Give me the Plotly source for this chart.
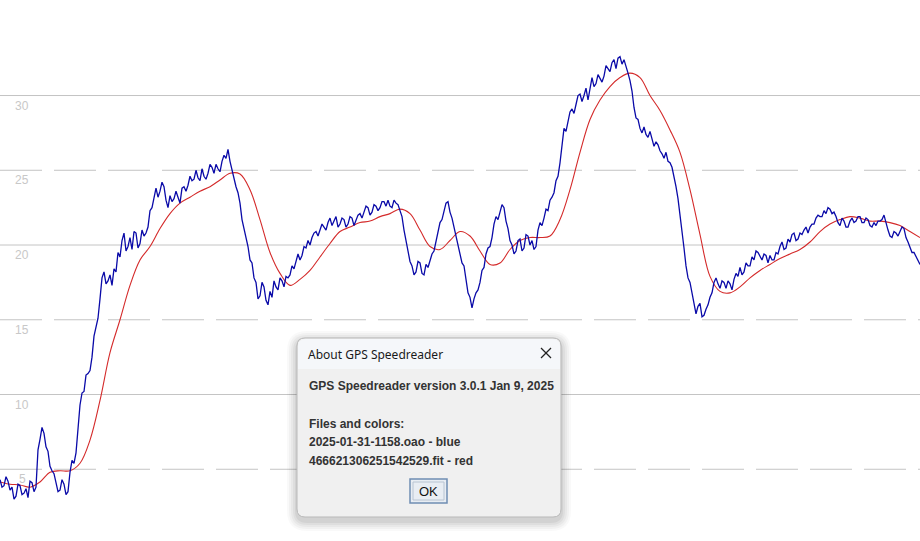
import numpy as np
import plotly.graph_objects as go

# ---------------- data ----------------
# blue series: 2025-01-31-1158.oao (speed, evenly sampled)
blue_speed = [
    4.3, 3.8, 3.9, 4.5, 4.2, 3.6, 3.8, 3.0, 3.2, 4.0, 3.9, 3.3, 3.4, 3.7, 3.1, 4.2, 4.1, 3.5, 3.8, 6.3,
    7.0, 7.8, 7.4, 6.5, 6.2, 5.2, 4.9, 4.7, 4.1, 3.5, 3.6, 4.3, 4.0, 3.3, 3.5, 4.8, 5.6, 5.4, 6.1, 7.9,
    9.3, 10.1, 10.2, 11.3, 11.4, 11.6, 12.5, 13.9, 14.6, 15.1, 16.4, 17.8, 18.2, 17.4, 17.6, 18.0, 17.3, 18.4, 18.2, 19.5,
    19.2, 20.3, 20.8, 19.6, 19.9, 20.5, 19.7, 20.9, 20.8, 19.8, 20.1, 21.0, 20.6, 20.8, 21.2, 22.3, 22.5, 23.1, 23.8, 23.2,
    23.6, 24.2, 23.9, 23.0, 22.5, 23.3, 22.9, 23.1, 23.6, 23.2, 22.8, 23.8, 23.9, 23.6, 24.0, 24.6, 24.3, 24.4, 25.0, 24.5,
    24.3, 25.1, 24.6, 24.4, 24.8, 25.4, 25.2, 24.8, 25.4, 25.1, 24.9, 25.6, 26.0, 25.8, 26.4, 25.6, 25.0, 24.6, 23.9, 23.5,
    22.8, 21.7, 21.1, 20.7, 19.9, 19.0, 18.8, 17.8, 17.5, 16.4, 16.6, 17.5, 17.2, 16.3, 16.0, 16.9, 16.5, 17.6, 17.2, 17.0,
    17.8, 17.6, 17.2, 17.9, 17.8, 18.0, 18.6, 18.4, 18.9, 19.4, 19.0, 19.3, 19.9, 19.8, 20.3, 20.0, 20.5, 20.8, 20.9, 20.6,
    21.0, 21.4, 21.2, 21.0, 21.5, 21.8, 21.3, 21.6, 21.9, 21.2, 21.4, 21.8, 21.7, 21.2, 21.4, 21.9, 21.8, 21.3, 21.6, 22.0,
    22.1, 21.8, 22.2, 22.6, 22.5, 22.0, 22.2, 22.7, 22.6, 22.3, 22.5, 22.9, 22.9, 22.6, 23.0, 22.6, 22.5, 23.0, 22.8, 22.7,
    22.3, 21.9, 21.0, 20.2, 19.7, 18.9, 18.6, 18.0, 18.2, 18.9, 18.8, 18.1, 18.0, 18.7, 18.5, 18.9, 19.4, 19.6, 20.2, 20.9,
    21.5, 21.7, 22.3, 22.8, 22.9, 22.2, 21.8, 21.2, 20.4, 19.9, 19.4, 18.8, 18.6, 17.5, 16.8, 16.5, 15.8, 16.4, 16.8, 17.0,
    17.5, 18.3, 18.5, 19.4, 19.8, 19.9, 20.5, 21.4, 21.9, 21.7, 22.2, 22.7, 22.5, 21.6, 21.1, 20.3, 20.0, 19.4, 19.6, 20.3,
    20.4, 19.6, 19.8, 20.7, 20.6, 20.0, 20.3, 19.7, 19.9, 21.0, 21.5, 21.3, 21.8, 22.4, 22.3, 23.0, 23.2, 23.5, 24.3, 24.6,
    25.5, 26.9, 27.8, 27.6, 28.2, 28.9, 29.1, 28.8, 29.4, 30.0, 30.1, 29.6, 30.0, 30.5, 29.7, 30.6, 31.2, 30.6, 30.8, 31.4,
    31.1, 30.9, 31.3, 32.0, 31.8, 31.6, 32.2, 32.4, 31.8, 32.5, 32.6, 32.1, 32.4, 32.0, 31.5, 31.0, 30.3, 29.2, 28.5, 28.4,
    27.8, 27.5, 27.9, 27.4, 27.2, 27.6, 27.0, 26.6, 26.9, 26.7, 26.3, 26.1, 25.8, 26.2, 25.6, 25.5, 25.2, 24.6, 23.9, 23.1,
    22.1, 21.0, 19.8, 18.6, 17.8, 17.5, 16.8, 16.3, 15.4, 15.9, 16.1, 15.2, 15.3, 15.7, 16.0, 16.5, 16.8, 17.5, 17.8, 17.4,
    17.1, 17.6, 17.5, 17.1, 17.6, 17.4, 17.0, 17.7, 18.1, 17.9, 18.5, 18.0, 18.2, 18.8, 18.6, 18.6, 19.2, 19.0, 19.6, 19.5,
    19.2, 19.0, 19.4, 19.3, 18.8, 19.3, 19.0, 19.0, 19.5, 19.4, 19.9, 20.2, 19.7, 19.8, 20.4, 20.2, 20.7, 20.8, 20.3, 20.4,
    20.8, 20.7, 21.0, 21.2, 20.8, 21.2, 21.4, 21.4, 21.8, 22.0, 21.9, 21.9, 22.3, 22.1, 22.5, 22.4, 22.1, 22.2, 21.9, 21.5,
    21.3, 21.8, 21.6, 21.2, 21.2, 21.6, 21.8, 21.5, 21.6, 21.9, 21.9, 21.5, 21.5, 21.8, 21.7, 21.3, 21.2, 21.5, 21.3, 21.6,
    21.6, 21.7, 22.0, 21.4, 21.0, 20.6, 20.5, 20.9, 20.8, 20.6, 20.9, 21.2, 21.1, 20.5, 20.2, 19.8, 19.5, 19.5, 19.2, 18.9,
    18.7,
]

# red series: 466621306251542529.fit (speed, evenly sampled)
red_speed = [
    4.15, 4.0, 3.95, 3.8, 4.15, 4.8, 4.9, 4.9, 5.4, 6.95,
    9.6, 12.8, 15.0, 17.3, 19.0, 19.9, 21.1, 22.1, 22.8, 23.2,
    23.6, 23.9, 24.35, 24.8, 24.75, 23.7, 21.7, 19.5, 18.1, 17.3,
    17.7, 18.3, 19.2, 20.1, 20.9, 21.2, 21.5, 21.6, 21.9, 22.1,
    22.4, 22.1, 21.0, 19.9, 19.7, 20.3, 20.9, 20.6, 19.6, 18.7,
    18.8, 19.7, 20.3, 20.5, 20.5, 20.6, 21.7, 23.7, 26.2, 28.4,
    29.7, 30.6, 31.2, 31.5, 31.2, 30.0, 29.0, 27.7, 26.2, 23.7,
    20.7, 17.9, 16.9, 16.8, 17.2, 17.8, 18.3, 18.7, 19.1, 19.4,
    19.7, 20.2, 20.9, 21.4, 21.7, 21.9, 21.8, 21.6, 21.6, 21.5,
    21.3, 20.9, 20.5,
]

time_span = [0, 920]                 # visible time window (sample units)
y_range = [0.2, 36.39]
solid_grid = [10, 20, 30]
dashed_grid = [5, 15, 25]
tick_labels = [5, 10, 15, 20, 25, 30]

dialog_title = "About GPS Speedreader"
dialog_lines = [
    "GPS Speedreader version 3.0.1 Jan 9, 2025",
    "Files and colors:",
    "2025-01-31-1158.oao - blue",
    "466621306251542529.fit - red",
]

# ---------------- figure ----------------
W, H = 920, 541
bx = np.linspace(time_span[0], time_span[1], len(blue_speed))
rx = np.linspace(time_span[0], time_span[1], len(red_speed))

fig = go.Figure()
fig.add_trace(go.Scatter(x=rx, y=red_speed, mode="lines",
                         line=dict(color="#d42a2a", width=1.1, shape="spline", smoothing=1.0),
                         hoverinfo="skip", showlegend=False))
fig.add_trace(go.Scatter(x=bx, y=blue_speed, mode="lines",
                         line=dict(color="#0a0aa8", width=1.3),
                         hoverinfo="skip", showlegend=False))

shapes = []
for g in solid_grid:
    shapes.append(dict(type="line", xref="paper", yref="y", x0=0, x1=1, y0=g, y1=g,
                       line=dict(color="#c4c4c4", width=1), layer="below"))
for g in dashed_grid:
    shapes.append(dict(type="line", xref="paper", yref="y", x0=0, x1=1, y0=g, y1=g,
                       line=dict(color="#c4c4c4", width=1, dash="42px,12px"), layer="below"))

annotations = []
for t in tick_labels:
    annotations.append(dict(x=22 / W, xref="paper", y=t, yref="y", text=str(t),
                            showarrow=False, xanchor="center", yanchor="top", yshift=-1,
                            font=dict(family="Liberation Sans, Arial", size=12, color="#c8c8c8")))


def px(x):
    return x / W


def py(y):
    return 1 - y / H


def rrect(x0, y0, x1, y1, r):
    rx_, ry_ = r / W, r / H
    X0, X1 = px(x0), px(x1)
    Y0, Y1 = py(y0), py(y1)  # Y0 top (larger), Y1 bottom
    return (f"M {X0+rx_},{Y0} L {X1-rx_},{Y0} Q {X1},{Y0} {X1},{Y0-ry_} "
            f"L {X1},{Y1+ry_} Q {X1},{Y1} {X1-rx_},{Y1} "
            f"L {X0+rx_},{Y1} Q {X0},{Y1} {X0},{Y1+ry_} "
            f"L {X0},{Y0-ry_} Q {X0},{Y0} {X0+rx_},{Y0} Z")


dx0, dy0, dx1, dy1 = 297, 338, 561, 517
# shadow
for i, a in enumerate([0.025, 0.03, 0.035, 0.04, 0.05]):
    s = 10 - 2 * i
    shapes.append(dict(type="path", xref="paper", yref="paper",
                       path=rrect(dx0 - s, dy0 - s + 3, dx1 + s, dy1 + s + 4, 10 + s),
                       fillcolor=f"rgba(0,0,0,{a})", line=dict(width=0)))
# dialog body
shapes.append(dict(type="path", xref="paper", yref="paper", path=rrect(dx0, dy0, dx1, dy1, 8),
                   fillcolor="#f0f0f0", line=dict(color="#b9b9b9", width=1)))
# title bar
shapes.append(dict(type="path", xref="paper", yref="paper",
                   path=(f"M {px(dx0+1)+8/W},{py(dy0+1)} L {px(dx1-1)-8/W},{py(dy0+1)} "
                         f"Q {px(dx1-1)},{py(dy0+1)} {px(dx1-1)},{py(dy0+9)} L {px(dx1-1)},{py(369)} "
                         f"L {px(dx0+1)},{py(369)} L {px(dx0+1)},{py(dy0+9)} "
                         f"Q {px(dx0+1)},{py(dy0+1)} {px(dx0+1)+8/W},{py(dy0+1)} Z"),
                   fillcolor="#f5f7fa", line=dict(width=0)))
# close "X" glyph
for (ax0, ay0, ax1, ay1) in [(541, 348, 551, 358), (541, 358, 551, 348)]:
    shapes.append(dict(type="line", xref="paper", yref="paper",
                       x0=px(ax0), y0=py(ay0), x1=px(ax1), y1=py(ay1),
                       line=dict(color="#222222", width=1.2)))
# OK button
shapes.append(dict(type="rect", xref="paper", yref="paper",
                   x0=px(410), x1=px(447), y0=py(503), y1=py(479),
                   fillcolor="#e8edf3", line=dict(color="#6f8db3", width=1.5)))
shapes.append(dict(type="rect", xref="paper", yref="paper",
                   x0=px(413), x1=px(444), y0=py(500), y1=py(482),
                   fillcolor="rgba(0,0,0,0)", line=dict(color="#b8c4d2", width=1)))

annotations.append(dict(x=px(306), y=py(354), xref="paper", yref="paper", text=dialog_title,
                        showarrow=False, xanchor="left", yanchor="middle",
                        font=dict(family="Noto Sans, Open Sans", size=12, color="#1a1a1a")))
line_y = [386, 424, 442, 461]
for t, yy in zip(dialog_lines, line_y):
    annotations.append(dict(x=px(307), y=py(yy), xref="paper", yref="paper", text=f"<b>{t}</b>",
                            showarrow=False, xanchor="left", yanchor="middle",
                            font=dict(family="Liberation Sans, Arial", size=12, color="#333333")))
annotations.append(dict(x=px(428.5), y=py(491), xref="paper", yref="paper", text="OK",
                        showarrow=False, xanchor="center", yanchor="middle",
                        font=dict(family="Liberation Sans, Arial", size=13, color="#111111")))

fig.update_layout(
    width=W, height=H,
    margin=dict(l=0, r=0, t=0, b=0),
    paper_bgcolor="white", plot_bgcolor="white",
    xaxis=dict(range=time_span, visible=False, fixedrange=True),
    yaxis=dict(range=y_range, visible=False, fixedrange=True),
    shapes=shapes, annotations=annotations,
    showlegend=False,
)
fig.write_html("out.html", config={"displayModeBar": False},
               post_script="document.body.style.margin='0';document.body.style.overflow='hidden';")
